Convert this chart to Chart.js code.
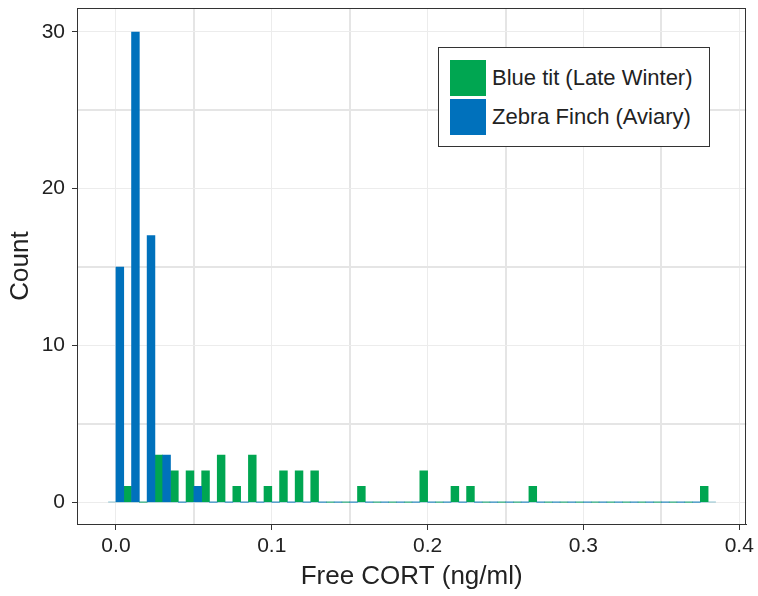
<!DOCTYPE html>
<html>
<head>
<meta charset="utf-8">
<script src="https://cdn.jsdelivr.net/npm/chart.js@4.4.1/dist/chart.umd.min.js"></script>
<style>
  body { margin: 0; background: #fff; }
  #wrap { position: relative; width: 758px; height: 596px; }
  #legend {
    position: absolute; left: 438px; top: 47px; width: 272px; height: 100px;
    border: 1px solid #333; background: #fff; box-sizing: border-box;
    font-family: "Liberation Sans", Arial, sans-serif; font-size: 22px; color: #222;
  }
  .item { position: absolute; left: 11px; height: 36px; display: flex; align-items: center; }
  .swatch { width: 36px; height: 36px; margin-right: 6px; }
</style>
</head>
<body>
<div id="wrap">
  <canvas id="grafico" width="758" height="596"></canvas>
  <div id="legend"></div>
</div>
<script>
// Centros dos bins do histograma (largura 0.01)
const binCenters = [0.005, 0.015, 0.025, 0.035, 0.045, 0.055, 0.065, 0.075, 0.085, 0.095,
                    0.105, 0.115, 0.125, 0.135, 0.145, 0.155, 0.165, 0.175, 0.185, 0.195,
                    0.205, 0.215, 0.225, 0.235, 0.245, 0.255, 0.265, 0.275, 0.285, 0.295,
                    0.305, 0.315, 0.325, 0.335, 0.345, 0.355, 0.365, 0.375];

// Contagens
const zebraCounts = [15, 30, 17, 3, 0, 1, 0, 0, 0, 0,
                     0, 0, 0, 0, 0, 0, 0, 0, 0, 0,
                     0, 0, 0, 0, 0, 0, 0, 0, 0, 0,
                     0, 0, 0, 0, 0, 0, 0, 0];
const blueTitCounts = [1, 0, 3, 2, 2, 2, 3, 1, 3, 1,
                       2, 2, 2, 0, 0, 1, 0, 0, 0, 2,
                       0, 1, 1, 0, 0, 0, 1, 0, 0, 0,
                       0, 0, 0, 0, 0, 0, 0, 1];

const xTicks = [0, 0.05, 0.1, 0.15, 0.2, 0.25, 0.3, 0.35, 0.4];
const xLabels = ['0.0', '', '0.1', '', '0.2', '', '0.3', '', '0.4'];
const yTicks = [0, 5, 10, 15, 20, 25, 30];
const yLabels = ['0', '', '10', '', '20', '', '30'];

const GREEN = '#00a651';
const BLUE = '#0071bc';
const FONT = '"Liberation Sans", Arial, sans-serif';

function toPoints(counts) {
    return binCenters.map((x, i) => ({ x: x, y: counts[i] }));
}

// Linha de base dos bins com contagem zero
const baseline = [
    { x: binCenters[0] - 0.01, y: 0 },
    { x: binCenters[binCenters.length - 1] + 0.01, y: 0 }
];

const frame = {
    id: 'frame',
    afterDraw(chart) {
        const a = chart.chartArea;
        const ctx = chart.ctx;
        ctx.save();
        ctx.strokeStyle = '#333';
        ctx.lineWidth = 1;
        ctx.strokeRect(Math.round(a.left) + 0.5, Math.round(a.top) + 0.5,
                       Math.round(a.right - a.left) - 1, Math.round(a.bottom - a.top));
        ctx.restore();
    }
};

function gridColor(c) { return c.index % 2 ? '#e5e5e5' : '#ececec'; }
function gridWidth(c) { return c.index % 2 ? 2 : 1; }
function tickColor(c) { return c.index % 2 ? 'rgba(0,0,0,0)' : '#333'; }

const chart = new Chart(document.getElementById('grafico'), {
    type: 'bar',
    data: {
        datasets: [
            {
                type: 'line',
                label: 'base',
                data: baseline,
                borderColor: 'rgba(90,170,190,0.45)',
                borderWidth: 1.5,
                pointRadius: 0,
                order: 3
            },
            {
                label: 'Zebra Finch (Aviary)',
                data: toPoints(zebraCounts),
                backgroundColor: BLUE,
                categoryPercentage: 1,
                barPercentage: 1,
                order: 1
            },
            {
                label: 'Blue tit (Late Winter)',
                data: toPoints(blueTitCounts),
                backgroundColor: GREEN,
                categoryPercentage: 1,
                barPercentage: 1,
                order: 1
            }
        ]
    },
    options: {
        responsive: false,
        animation: false,
        layout: { padding: { top: 8, right: 11, left: 0, bottom: 0 } },
        plugins: { legend: { display: false }, tooltip: { enabled: false } },
        scales: {
            x: {
                type: 'linear',
                min: -0.025,
                max: 0.4045,
                offset: false,
                afterBuildTicks: s => { s.ticks = xTicks.map(v => ({ value: v })); },
                afterFit: s => { s.height = 72; },
                ticks: {
                    autoSkip: false,
                    maxRotation: 0,
                    padding: 4,
                    color: '#222',
                    font: { family: FONT, size: 21 },
                    callback: (v, i) => xLabels[i]
                },
                grid: {
                    offset: false,
                    color: gridColor,
                    lineWidth: gridWidth,
                    tickColor: tickColor,
                    tickWidth: 1,
                    tickLength: 6
                },
                border: { color: '#333', width: 1 },
                title: {
                    display: true,
                    text: 'Free CORT (ng/ml)',
                    color: '#222',
                    font: { family: FONT, size: 26 },
                    padding: { top: 0, bottom: 4 }
                }
            },
            y: {
                min: -1.4,
                max: 31.53,
                afterBuildTicks: s => { s.ticks = yTicks.map(v => ({ value: v })); },
                afterFit: s => { s.width = 77; s.paddingTop = 0; s.paddingBottom = 0; },
                ticks: {
                    autoSkip: false,
                    padding: 7,
                    color: '#222',
                    font: { family: FONT, size: 21 },
                    callback: (v, i) => yLabels[i]
                },
                grid: {
                    color: gridColor,
                    lineWidth: gridWidth,
                    tickColor: tickColor,
                    tickWidth: 1,
                    tickLength: 5
                },
                border: { color: '#333', width: 1 },
                title: {
                    display: true,
                    text: 'Count',
                    color: '#222',
                    font: { family: FONT, size: 26 },
                    padding: { top: 5, bottom: 0 }
                }
            }
        }
    },
    plugins: [frame]
});

// Legenda em HTML, na ordem da figura
function buildLegend() {
    const el = document.getElementById('legend');
    const items = [chart.data.datasets[2], chart.data.datasets[1]];
    items.forEach((ds, i) => {
        const div = document.createElement('div');
        div.className = 'item';
        div.style.top = (12 + i * 39) + 'px';
        div.innerHTML = '<div class="swatch" style="background:' + ds.backgroundColor + '"></div>' +
                        '<span>' + ds.label + '</span>';
        el.appendChild(div);
    });
}
buildLegend();
</script>
</body>
</html>
